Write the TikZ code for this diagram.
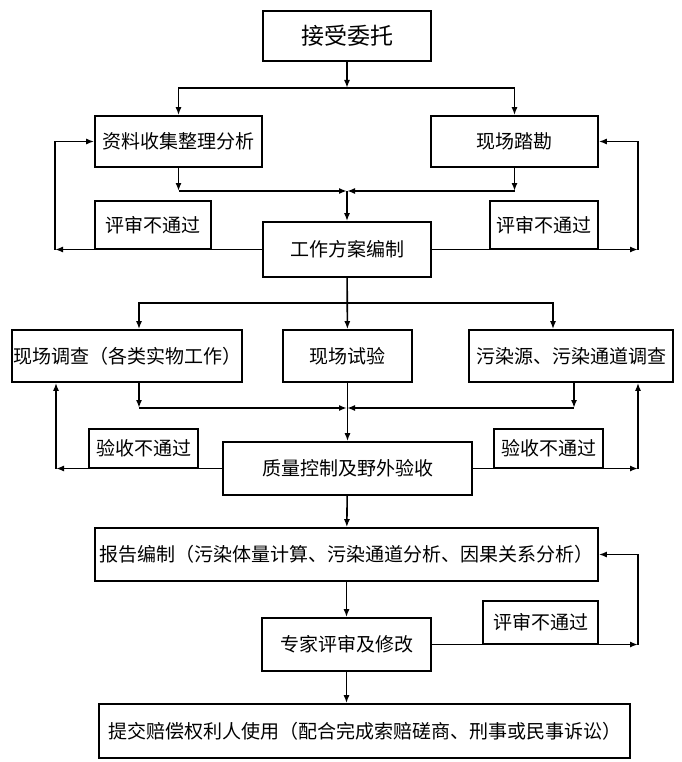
\documentclass[tikz,border=0pt]{standalone}
\usepackage{fontspec}
\setmainfont{Noto Sans CJK SC}
\usetikzlibrary{positioning,calc,arrows.meta}

\begin{document}
\begin{tikzpicture}[x=1pt, y=-1pt, line width=1.6pt, >={Latex[length=8pt,width=6pt]},
    box/.style={draw, inner sep=0pt, font=\fontsize{19}{19}\selectfont},
    note/.style={draw, inner sep=0pt, font=\fontsize{19}{19}\selectfont}]
    \useasboundingbox (0,0) rectangle (681,762);

    \node [box, minimum width=168, minimum height=50, font=\fontsize{23}{23}\selectfont] (accept) at (347,36) {接受委托};
    \node [box, minimum width=167, minimum height=51] (collect) at (178.5,141.5) {资料收集整理分析};
    \node [box, minimum width=167, minimum height=51] (survey) at (514.5,141.5) {现场踏勘};
    \node [box, minimum width=168, minimum height=55] (plan) at (347,249.5) {工作方案编制};
    \node [note, minimum width=116, minimum height=48] (review1) at (153,225) {评审不通过};
    \node [note, minimum width=108, minimum height=48] (review2) at (544,225) {评审不通过};

    \node [box, minimum width=230, minimum height=52] (invest) at (127,356) {现场调查（各类实物工作）};
    \node [box, minimum width=129, minimum height=52] (test) at (347.5,356) {现场试验};
    \node [box, minimum width=204, minimum height=52] (source) at (571,356) {污染源、污染通道调查};
    \node [box, minimum width=249, minimum height=53] (quality) at (347.5,468.5) {质量控制及野外验收};
    \node [note, minimum width=109, minimum height=39] (check1) at (143.5,448.5) {验收不通过};
    \node [note, minimum width=109, minimum height=39] (check2) at (548.5,448.5) {验收不通过};

    \node [box, minimum width=503, minimum height=53] (report) at (346.5,554.5) {报告编制（污染体量计算、污染通道分析、因果关系分析）};
    \node [box, minimum width=169, minimum height=53] (expert) at (346.5,644.5) {专家评审及修改};
    \node [note, minimum width=115, minimum height=43] (review3) at (540.5,622.5) {评审不通过};
    \node [box, minimum width=531, minimum height=54] (submit) at (364.5,731) {提交赔偿权利人使用（配合完成索赔磋商、刑事或民事诉讼）};

    \coordinate (s1) at (347,88);
    \coordinate (m1) at (347,191);
    \coordinate (fl1) at (55,249.5);
    \coordinate (fr1) at (638,249.5);
    \coordinate (s2) at (347,303);
    \coordinate (a1) at (139,303);
    \coordinate (a3) at (553,303);
    \coordinate (m2) at (347,408);
    \coordinate (b1) at (139,408);
    \coordinate (b3) at (574,408);
    \coordinate (fl2) at (56,468.5);
    \coordinate (fr2) at (638,468.5);
    \coordinate (fr3) at (638,644.5);

    \draw [->] (accept) -- (s1);
    \draw [->] (s1) -| (collect);
    \draw [->] (s1) -| (survey);
    \draw [->] (collect) -- (collect |- m1);
    \draw [->] (survey) -- (survey |- m1);
    \draw [->] (collect |- m1) -- (m1);
    \draw [->] (survey |- m1) -- (m1);
    \draw [->] (m1) -- (plan);
    \draw [->] (plan) -- (fl1);
    \draw [->] (fl1) |- (collect);
    \draw [->] (plan) -- (fr1);
    \draw [->] (fr1) |- (survey);

    \draw [->] (plan) -- (test);
    \draw [->] (s2) -- (a1) -- (a1 |- invest.north);
    \draw [->] (s2) -- (a3) -- (a3 |- source.north);
    \draw [->] (b1 |- invest.south) -- (b1);
    \draw [->] (b1) -- (m2);
    \draw [->] (b3 |- source.south) -- (b3);
    \draw [->] (b3) -- (m2);
    \draw [->] (test) -- (quality);
    \draw [->] (quality) -- (fl2);
    \draw [->] (fl2) -- (fl2 |- invest.south);
    \draw [->] (quality) -- (fr2);
    \draw [->] (fr2) -- (fr2 |- source.south);

    \draw [->] (quality) -- (report);
    \draw [->] (report) -- (expert);
    \draw [->] (expert) -- (expert.south |- submit.north);
    \draw [->] (expert) -- (fr3);
    \draw [->] (fr3) |- (report);
\end{tikzpicture}
\end{document}
